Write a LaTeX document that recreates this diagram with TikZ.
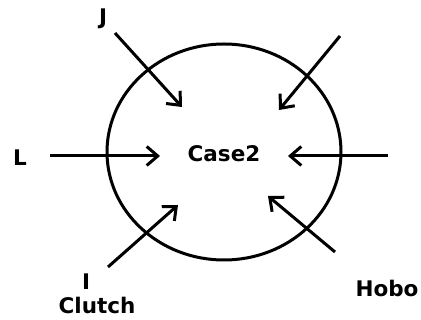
\documentclass[tikz,border=0pt]{standalone}
\usepackage{fontspec}
\setmainfont{DejaVu Sans}
\usetikzlibrary{arrows.meta}
\begin{document}
\begin{tikzpicture}[x=1pt,y=-1pt,
  lbl/.style={font=\bfseries\fontsize{21.5}{24}\selectfont, inner sep=0pt},
  arr/.style={line width=3pt, -{Straight Barb[length=11pt,width=19pt,line width=3pt]}},
  ring/.style={line width=3pt}]
\useasboundingbox (0,0) rectangle (421,320);
\draw[ring] (224,152) ellipse [x radius=117, y radius=108];
\node[lbl] (case) at (224,154) {Case2};
\node[lbl] (J) at (103,19) {J};
\node[lbl] (L) at (20,158) {L};
\node[lbl] (I) at (86,282) {I};
\node[lbl] (clutch) at (97,305) {Clutch};
\node[lbl] (hobo) at (387,288) {Hobo};
\coordinate (s1) at (115,33);  \coordinate (e1) at (182,107);
\coordinate (s2) at (340,36);  \coordinate (e2) at (279,110);
\coordinate (s3) at (50,156);  \coordinate (e3) at (160,156);
\coordinate (s4) at (388,156); \coordinate (e4) at (288,156);
\coordinate (s5) at (108,267); \coordinate (e5) at (178,205);
\coordinate (s6) at (335,252); \coordinate (e6) at (268,196);
\draw[arr] (s1) -- (e1);
\draw[arr] (s2) -- (e2);
\draw[arr] (s3) -- (e3);
\draw[arr] (s4) -- (e4);
\draw[arr] (s5) -- (e5);
\draw[arr] (s6) -- (e6);
\end{tikzpicture}
\end{document}
